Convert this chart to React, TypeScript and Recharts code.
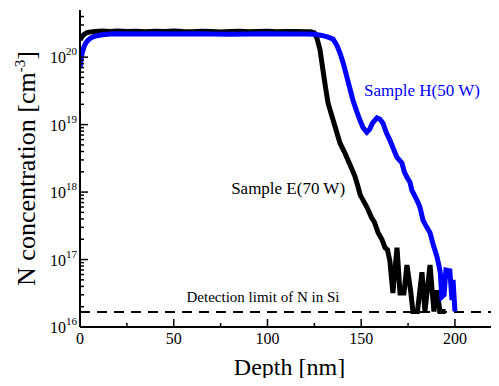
import { LineChart, Line, XAxis, YAxis, ReferenceLine, ReferenceDot } from 'recharts';

const FONT = 'Liberation Serif';

// depth [nm]
const depthE = [
    0, 1, 2, 3.5, 5, 8, 12, 16, 20, 25, 30, 35, 40, 45, 50, 55, 60, 65, 70, 75, 80, 85, 90, 95, 100,
    105, 110, 115, 120, 123, 125, 126.4, 128, 129.6, 131, 132.3, 135, 138.7, 141.3, 145, 146.7, 148.3,
    149.5, 151, 153, 155.5, 157, 159, 161, 162.7, 164, 165.3, 166.9, 169.1, 170.7, 172.8, 174.4, 176.5,
    177.6, 180, 182.4, 184, 186.7, 188.8, 190.4, 192, 195,
];
// N concentration [cm^-3], Sample E (70 W)
const concE = [
    1.8e20, 2.0e20, 2.15e20, 2.3e20, 2.35e20, 2.4e20, 2.45e20, 2.4e20, 2.45e20, 2.4e20, 2.42e20, 2.38e20,
    2.42e20, 2.4e20, 2.44e20, 2.4e20, 2.38e20, 2.42e20, 2.4e20, 2.36e20, 2.4e20, 2.42e20, 2.38e20, 2.4e20,
    2.42e20, 2.38e20, 2.4e20, 2.4e20, 2.38e20, 2.38e20, 2.3e20, 1.9e20, 1.3e20, 6.4e19, 3.5e19, 2.1e19,
    1.17e19, 5.3e18, 3.8e18, 2.2e18, 1.7e18, 1.2e18, 9e17, 7.6e17, 6e17, 4.2e17, 3.6e17, 2.5e17, 2e17,
    1.5e17, 1.4e17, 9.5e16, 3.2e16, 1.5e17, 3.2e16, 3.2e16, 8.3e16, 3.2e16, 1.7e16, 1.7e16, 6.5e16,
    1.7e16, 8.3e16, 1.7e16, 3.5e16, 1.7e16, 1.7e16,
];

const depthH = [
    0, 0.5, 1, 2, 3, 4, 5.5, 7, 9, 12, 16, 20, 30, 40, 50, 60, 70, 80, 90, 100, 110, 120, 125, 129, 132,
    135, 137, 138.7, 140.5, 142.4, 144, 145.6, 147.5, 149.3, 151, 153, 154.5, 156, 158.4, 160, 161.6,
    163.5, 165.3, 167, 169, 171.7, 173, 174.4, 176, 177, 179.7, 181.3, 183, 185, 186.7, 188.3, 190.4,
    191.5, 192.2, 193, 194.2, 195.2, 197.3, 198.4, 199, 200,
];
// Sample H (50 W)
const concH = [
    6.9e19, 9e19, 1.1e20, 1.4e20, 1.6e20, 1.75e20, 1.9e20, 2.0e20, 2.08e20, 2.15e20, 2.2e20, 2.22e20,
    2.2e20, 2.22e20, 2.2e20, 2.22e20, 2.2e20, 2.18e20, 2.2e20, 2.22e20, 2.2e20, 2.2e20, 2.18e20, 2.1e20,
    2.0e20, 1.85e20, 1.5e20, 1.15e20, 8e19, 5e19, 3.4e19, 2.3e19, 1.6e19, 1.17e19, 9e18, 7.7e18, 8.5e18,
    1.05e19, 1.26e19, 1.2e19, 1.05e19, 7.5e18, 5.9e18, 4.5e18, 3.3e18, 2.7e18, 2e18, 1.66e18, 1.4e18,
    1.07e18, 7.6e17, 6e17, 3.8e17, 3e17, 2.5e17, 1.7e17, 1.1e17, 8e16, 6.3e16, 2.8e16, 3e16, 7e16,
    6.8e16, 2.5e16, 5e16, 1.7e16,
];

const detectionLimit = 1.67e16;

const xTicks = [0, 25, 50, 75, 100, 125, 150, 175, 200];
const decades = [16, 17, 18, 19, 20];
const minorMult = [2, 3, 4, 5, 6, 7, 8, 9];
const yTicks = [
    ...decades.map((d) => Math.pow(10, d)),
    ...decades.flatMap((d) => minorMult.map((m) => m * Math.pow(10, d))).filter((v) => v < 5e20),
];

const dataE = depthE.map((x, i) => ({ x, v: concE[i] }));
const dataH = depthH.map((x, i) => ({ x, v: concH[i] }));

const isDecade = (v: number) => {
    const e = Math.round(Math.log10(v));
    return Math.abs(v - Math.pow(10, e)) < v * 1e-6;
};

const txt = { fontFamily: FONT };

const YTick = (props: any) => {
    const { x, y, payload } = props;
    const v = payload.value;
    const major = isDecade(v);
    return (
        <g>
            <line x1={x} x2={x + (major ? 8 : 4)} y1={y} y2={y} stroke="#000" strokeWidth={1.5} />
            {major && (
                <text x={x - 3} y={y + 6} textAnchor="end" style={txt} fontSize={16} fill="#000">
                    <tspan>10</tspan>
                    <tspan dy={-8} fontSize={11}>{Math.round(Math.log10(v))}</tspan>
                </text>
            )}
        </g>
    );
};

const XTick = (props: any) => {
    const { x, y, payload } = props;
    const major = payload.value % 50 === 0;
    return (
        <g>
            <line x1={x} x2={x} y1={y} y2={y - (major ? 8 : 4)} stroke="#000" strokeWidth={1.5} />
            {major && (
                <text x={x} y={y + 17} textAnchor="middle" style={txt} fontSize={16} fill="#000">
                    {payload.value}
                </text>
            )}
        </g>
    );
};

const TopTick = (props: any) => {
    const { x, y, payload } = props;
    const major = payload.value % 50 === 0;
    return <line x1={x} x2={x} y1={y} y2={y + (major ? 8 : 5)} stroke="#000" strokeWidth={1.5} />;
};

const YLabel = ({ viewBox }: any) => {
    const cx = 35;
    const cy = viewBox.y + viewBox.height / 2;
    return (
        <text
            x={cx}
            y={cy}
            transform={`rotate(-90, ${cx}, ${cy})`}
            textAnchor="middle"
            style={txt}
            fontSize={26}
            fill="#000"
        >
            N concentration [cm<tspan dy={-10} fontSize={15}>-3</tspan>
            <tspan dy={10}>]</tspan>
        </text>
    );
};

const XLabel = ({ viewBox }: any) => (
    <text
        x={viewBox.x + viewBox.width / 2}
        y={viewBox.y + 48}
        textAnchor="middle"
        style={txt}
        fontSize={24}
        fill="#000"
    >
        Depth [nm]
    </text>
);

const App = () => {
    return (
        <div
            style={{
                margin: -8,
                width: 499,
                height: 386,
                overflow: 'hidden',
                background: '#fff',
                fontFamily: FONT,
            }}
        >
            <LineChart width={499} height={386} margin={{ top: 10, right: 0, bottom: 0, left: 0 }} style={txt}>
                <XAxis
                    xAxisId="bottom"
                    dataKey="x"
                    type="number"
                    domain={[0, 223.5]}
                    allowDataOverflow
                    ticks={xTicks}
                    interval={0}
                    height={59}
                    tickSize={0}
                    tickMargin={0}
                    tickLine={false}
                    tick={<XTick />}
                    axisLine={{ stroke: '#000', strokeWidth: 2 }}
                    label={<XLabel />}
                />
                <XAxis
                    xAxisId="top"
                    orientation="top"
                    dataKey="x"
                    type="number"
                    domain={[0, 223.5]}
                    allowDataOverflow
                    ticks={xTicks}
                    interval={0}
                    height={0}
                    tickSize={0}
                    tickMargin={0}
                    tickLine={false}
                    tick={<TopTick />}
                    axisLine={{ stroke: '#000', strokeWidth: 2 }}
                />
                <YAxis
                    type="number"
                    scale="log"
                    domain={[1e16, 5e20]}
                    allowDataOverflow
                    ticks={yTicks}
                    interval={0}
                    width={80}
                    tickSize={0}
                    tickMargin={0}
                    tickLine={false}
                    tick={<YTick />}
                    axisLine={{ stroke: '#000', strokeWidth: 2 }}
                    label={<YLabel />}
                />
                <ReferenceLine
                    xAxisId="bottom"
                    y={detectionLimit}
                    stroke="#000"
                    strokeWidth={2}
                    strokeDasharray="10 7"
                />
                <Line
                    xAxisId="bottom"
                    data={dataE}
                    dataKey="v"
                    type="linear"
                    stroke="#000000"
                    strokeWidth={5}
                    dot={false}
                    isAnimationActive={false}
                />
                <Line
                    xAxisId="bottom"
                    data={dataH}
                    dataKey="v"
                    type="linear"
                    stroke="#0000ff"
                    strokeWidth={5}
                    dot={false}
                    isAnimationActive={false}
                />
                <ReferenceDot
                    xAxisId="bottom"
                    x={182.4}
                    y={3.24e19}
                    r={1}
                    fill="none"
                    stroke="none"
                    label={{ value: 'Sample H(50 W)', position: 'center', fill: '#0000ff', fontSize: 17, style: txt }}
                />
                <ReferenceDot
                    xAxisId="bottom"
                    x={111}
                    y={1.17e18}
                    r={1}
                    fill="none"
                    stroke="none"
                    label={{ value: 'Sample E(70 W)', position: 'center', fill: '#000', fontSize: 17, style: txt }}
                />
                <ReferenceDot
                    xAxisId="bottom"
                    x={97.6}
                    y={2.78e16}
                    r={1}
                    fill="none"
                    stroke="none"
                    label={{ value: 'Detection limit of N in Si', position: 'center', fill: '#000', fontSize: 15, style: txt }}
                />
            </LineChart>
        </div>
    );
};

export default App;
